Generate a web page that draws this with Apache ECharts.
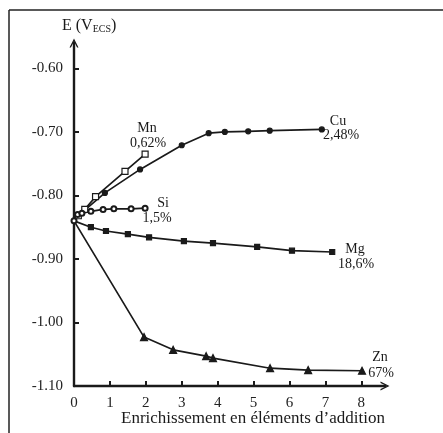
<!DOCTYPE html>
<html>
<head>
<meta charset="utf-8">
<script src="https://cdn.jsdelivr.net/npm/echarts@6/dist/echarts.min.js"></script>
<style>
html,body{margin:0;padding:0;background:#fff;}
#c{width:443px;height:433px;}
</style>
</head>
<body>
<div id="c"></div>
<script>
// Data (x: enrichment, y: E in V/ECS)
const cuX = [0, 0.3, 0.86, 1.84, 3.0, 3.75, 4.2, 4.85, 5.45, 6.9];
const cuY = [-0.84, -0.823, -0.796, -0.759, -0.721, -0.702, -0.700, -0.699, -0.698, -0.696];
const mnX = [0, 0.12, 0.3, 0.6, 1.42, 1.98];
const mnY = [-0.84, -0.832, -0.822, -0.802, -0.762, -0.735];
const siX = [0, 0.1, 0.22, 0.47, 0.81, 1.11, 1.59, 1.98];
const siY = [-0.84, -0.830, -0.828, -0.825, -0.822, -0.821, -0.821, -0.820];
const mgX = [0, 0.47, 0.89, 1.5, 2.09, 3.06, 3.87, 5.1, 6.07, 7.19];
const mgY = [-0.84, -0.850, -0.856, -0.861, -0.866, -0.872, -0.875, -0.881, -0.887, -0.889];
const znX = [0, 1.95, 2.76, 3.68, 3.87, 5.46, 6.52, 8.02];
const znY = [-0.84, -1.023, -1.043, -1.053, -1.056, -1.072, -1.075, -1.076];
const xTicks = [0, 1, 2, 3, 4, 5, 6, 7, 8];
const yTicks = [-1.1, -1.0, -0.9, -0.8, -0.7, -0.6];
const seriesLabels = [
  ['Mn', '0,62%'],
  ['Cu', '2,48%'],
  ['Si', '1,5%'],
  ['Mg', '18,6%'],
  ['Zn', '67%']
];
const xTitle = 'Enrichissement en éléments d\u2019addition';

const FONT = '"Liberation Serif", "DejaVu Serif", serif';
const INK = '#1a1a1a';

function pts(xs, ys, keepOrigin) {
  return xs.map((x, i) => (i === 0 && !keepOrigin) ? {value: [x, ys[i]], symbolSize: 0} : [x, ys[i]]);
}
function line(name, xs, ys, symbol, size, fill, keepOrigin) {
  return {
    name, type: 'line', data: pts(xs, ys, keepOrigin),
    symbol, symbolSize: size, showAllSymbol: true,
    lineStyle: {color: INK, width: 1.7},
    itemStyle: {color: fill, borderColor: INK, borderWidth: 1.2},
    emphasis: {disabled: true}, animation: false, z: 3
  };
}

const arrow = 'path://M0,10 L5,0 L10,10 L8.4,10 L5,3.2 L1.6,10 Z';

const lbl = (x, y, t) => ({
  type: 'text', x: x, y: y, z: 10,
  style: {text: t, font: '14px ' + FONT, fill: INK, align: 'center', verticalAlign: 'middle'}
});

const option = {
  backgroundColor: '#fff',
  animation: false,
  grid: {left: 74, top: 43, right: 58, bottom: 47, containLabel: false},
  xAxis: {
    type: 'value', min: 0, max: 8.66, interval: 1,
    axisLine: {show: true, lineStyle: {color: INK, width: 2.4}, symbol: ['none', arrow], symbolSize: [10, 9]},
    axisTick: {show: true, inside: true, length: 5, lineStyle: {color: INK, width: 2}, customValues: xTicks},
    axisLabel: {customValues: xTicks, color: '#222', fontFamily: FONT, fontSize: 15, margin: 10},
    splitLine: {show: false}
  },
  yAxis: {
    type: 'value', min: -1.1, max: -0.56, interval: 0.1,
    axisLine: {show: true, onZero: false, lineStyle: {color: INK, width: 2.4}, symbol: ['none', arrow], symbolSize: [10, 9]},
    axisTick: {show: true, inside: true, length: 5, lineStyle: {color: INK, width: 2}, customValues: yTicks},
    axisLabel: {customValues: yTicks, color: '#222', fontFamily: FONT, fontSize: 15, margin: 11,
      formatter: v => v.toFixed(2)},
    splitLine: {show: false}
  },
  series: [
    line('Cu', cuX, cuY, 'circle', 5, INK, false),
    line('Mn', mnX, mnY, 'rect', 6, '#fff', false),
    line('Si', siX, siY, 'emptyCircle', 5, INK, true),
    line('Mg', mgX, mgY, 'rect', 5, INK, false),
    line('Zn', znX, znY, 'triangle', 7, INK, false)
  ],
  graphic: [
    {type: 'line', shape: {x1: 9, y1: 10, x2: 443, y2: 10}, style: {stroke: '#222', lineWidth: 1.5}},
    {type: 'line', shape: {x1: 9, y1: 10, x2: 9, y2: 433}, style: {stroke: '#222', lineWidth: 1.5}},
    {type: 'text', x: 62, y: 26,
      style: {text: '{a|E (V}{b|ECS}{a|)}', fill: INK, verticalAlign: 'middle',
        rich: {a: {font: '16px ' + FONT, fill: INK}, b: {font: '10px ' + FONT, fill: INK, padding: [6, 0, 0, 0]}}}},
    {type: 'text', x: 253, y: 419, style: {text: xTitle, font: '17px ' + FONT, fill: INK, align: 'center', verticalAlign: 'middle'}},
    lbl(147, 128, seriesLabels[0][0]),
    lbl(148, 143, seriesLabels[0][1]),
    lbl(338, 121, seriesLabels[1][0]),
    lbl(341, 135, seriesLabels[1][1]),
    lbl(163, 203, seriesLabels[2][0]),
    lbl(157, 218, seriesLabels[2][1]),
    lbl(355, 249, seriesLabels[3][0]),
    lbl(356, 264, seriesLabels[3][1]),
    lbl(380, 357, seriesLabels[4][0]),
    lbl(381, 373, seriesLabels[4][1])
  ]
};

const chart = echarts.init(document.getElementById('c'), null, {renderer: 'canvas'});
chart.setOption(option);
</script>
</body>
</html>
